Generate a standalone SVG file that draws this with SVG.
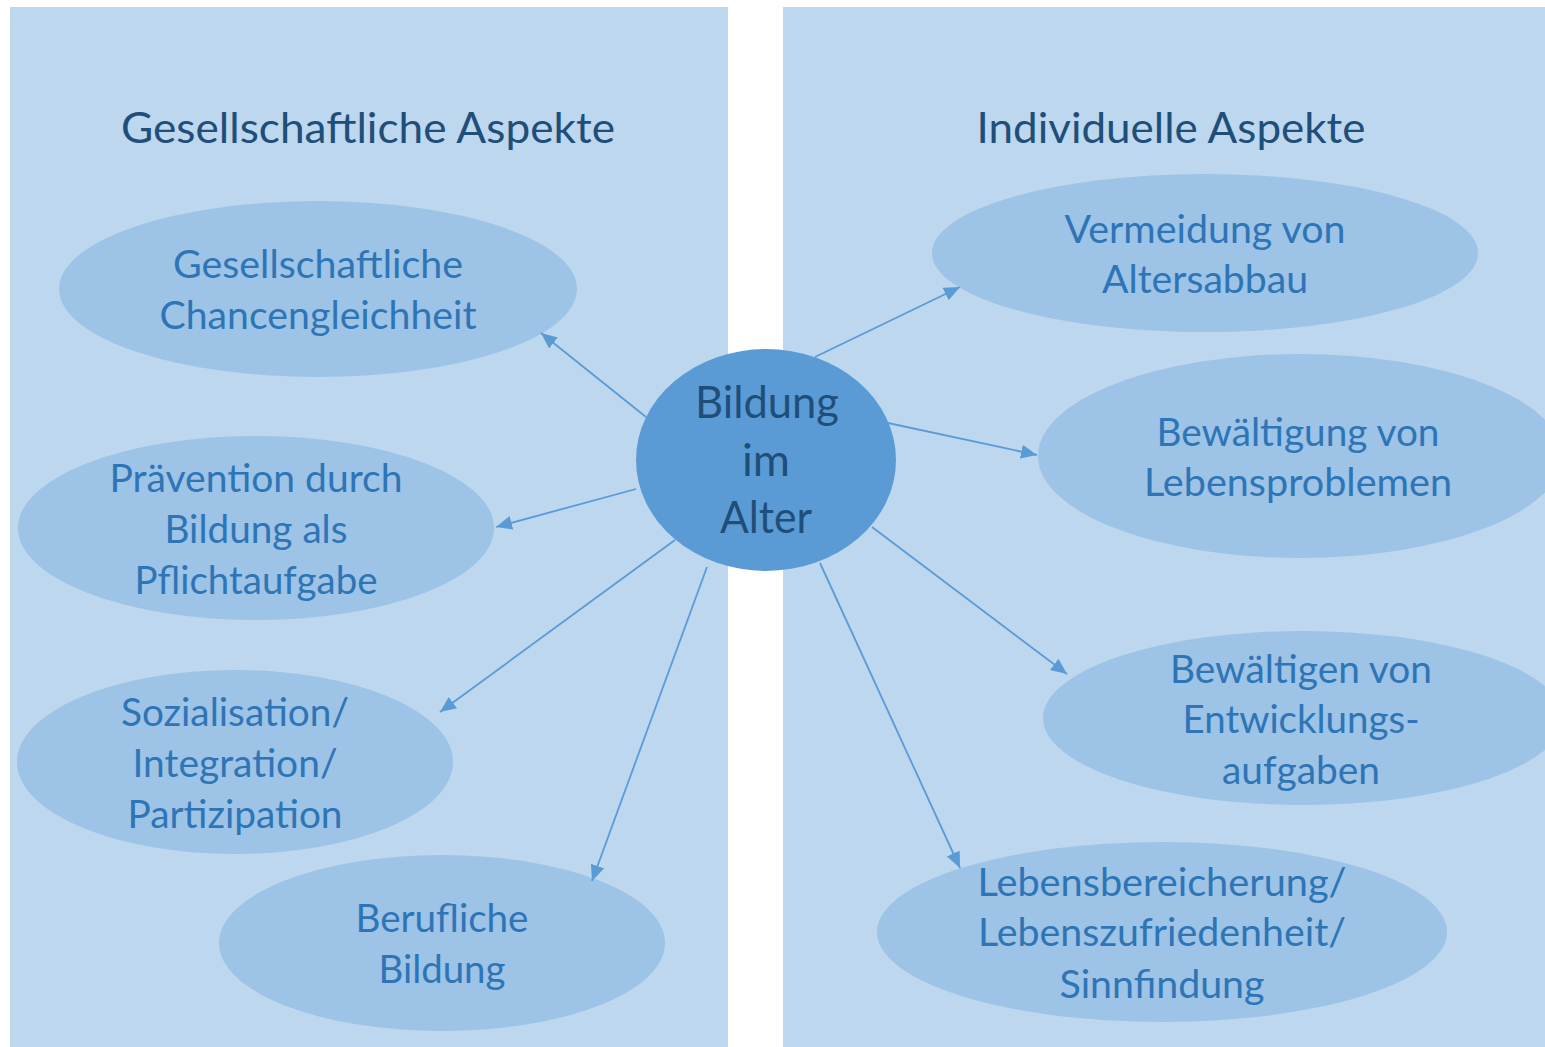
<svg xmlns="http://www.w3.org/2000/svg" width="1545" height="1047" viewBox="0 0 1545 1047">
<style>
.panel{fill:#BDD7EE}
.oval{fill:#9DC3E6}
.hub{fill:#5B9BD5}
text{font-family:Lato,"Open Sans",sans-serif;text-anchor:middle}
.title{font-size:43px;fill:#1F4E79}
.lbl{font-size:39px;fill:#2E75B6}
.hubt{font-size:44px;fill:#1F4E79}
.conn line{stroke:#5B9BD5;stroke-width:1.8;marker-end:url(#ah)}
</style>
<defs>
<marker id="ah" viewBox="0 0 16 14" refX="16" refY="7" markerWidth="16" markerHeight="14" markerUnits="userSpaceOnUse" orient="auto">
<path d="M0,0 L16,7 L0,14 z" fill="#5B9BD5"/>
</marker>
</defs>
<rect width="1545" height="1047" fill="#FFFFFF"/>
<g id="panel-left">
<rect class="panel" x="10" y="7" width="718" height="1040"/>
<text class="title" x="368" y="143" textLength="494" lengthAdjust="spacingAndGlyphs">Gesellschaftliche Aspekte</text>
</g>
<g id="panel-right">
<rect class="panel" x="783" y="7" width="762" height="1040"/>
<text class="title" x="1171" y="143" textLength="389" lengthAdjust="spacingAndGlyphs">Individuelle Aspekte</text>
</g>
<g id="n-chancengleichheit">
<ellipse class="oval" cx="318" cy="289" rx="259" ry="88"/>
<text class="lbl" x="318" y="278" textLength="290" lengthAdjust="spacingAndGlyphs">Gesellschaftliche</text>
<text class="lbl" x="318" y="329" textLength="317" lengthAdjust="spacingAndGlyphs">Chancengleichheit</text>
</g>
<g id="n-praevention">
<ellipse class="oval" cx="256" cy="528" rx="238" ry="92"/>
<text class="lbl" x="256" y="492" textLength="293" lengthAdjust="spacingAndGlyphs">Prävention durch</text>
<text class="lbl" x="256" y="543" textLength="183" lengthAdjust="spacingAndGlyphs">Bildung als</text>
<text class="lbl" x="256" y="594" textLength="243" lengthAdjust="spacingAndGlyphs">Pflichtaufgabe</text>
</g>
<g id="n-sozialisation">
<ellipse class="oval" cx="235" cy="762" rx="218" ry="92"/>
<text class="lbl" x="235" y="726" textLength="228" lengthAdjust="spacingAndGlyphs">Sozialisation/</text>
<text class="lbl" x="235" y="777" textLength="205" lengthAdjust="spacingAndGlyphs">Integration/</text>
<text class="lbl" x="235" y="828" textLength="215" lengthAdjust="spacingAndGlyphs">Partizipation</text>
</g>
<g id="n-beruflich">
<ellipse class="oval" cx="442" cy="943" rx="223" ry="88"/>
<text class="lbl" x="442" y="932" textLength="173" lengthAdjust="spacingAndGlyphs">Berufliche</text>
<text class="lbl" x="442" y="983" textLength="127" lengthAdjust="spacingAndGlyphs">Bildung</text>
</g>
<g id="n-altersabbau">
<ellipse class="oval" cx="1205" cy="253" rx="273" ry="79"/>
<text class="lbl" x="1205" y="243" textLength="281" lengthAdjust="spacingAndGlyphs">Vermeidung von</text>
<text class="lbl" x="1205" y="293" textLength="206" lengthAdjust="spacingAndGlyphs">Altersabbau</text>
</g>
<g id="n-lebensprobleme">
<ellipse class="oval" cx="1300" cy="456" rx="262" ry="102"/>
<text class="lbl" x="1298" y="446" textLength="283" lengthAdjust="spacingAndGlyphs">Bewältigung von</text>
<text class="lbl" x="1298" y="496" textLength="308" lengthAdjust="spacingAndGlyphs">Lebensproblemen</text>
</g>
<g id="n-entwicklung">
<ellipse class="oval" cx="1303" cy="718" rx="260" ry="87"/>
<text class="lbl" x="1301" y="683" textLength="262" lengthAdjust="spacingAndGlyphs">Bewältigen von</text>
<text class="lbl" x="1301" y="733" textLength="237" lengthAdjust="spacingAndGlyphs">Entwicklungs-</text>
<text class="lbl" x="1301" y="784" textLength="158" lengthAdjust="spacingAndGlyphs">aufgaben</text>
</g>
<g id="n-lebensbereicherung">
<ellipse class="oval" cx="1162" cy="932" rx="285" ry="90"/>
<text class="lbl" x="1162" y="896" textLength="369" lengthAdjust="spacingAndGlyphs">Lebensbereicherung/</text>
<text class="lbl" x="1162" y="946" textLength="368" lengthAdjust="spacingAndGlyphs">Lebenszufriedenheit/</text>
<text class="lbl" x="1162" y="998" textLength="205" lengthAdjust="spacingAndGlyphs">Sinnfindung</text>
</g>
<g id="connectors" class="conn">
<line x1="646" y1="417" x2="541" y2="333"/>
<line x1="636" y1="489" x2="496" y2="527"/>
<line x1="675" y1="540" x2="440" y2="712"/>
<line x1="707" y1="567" x2="592" y2="881"/>
<line x1="815" y1="357" x2="960" y2="287"/>
<line x1="888" y1="423" x2="1037" y2="455"/>
<line x1="872" y1="527" x2="1067" y2="674"/>
<line x1="820" y1="563" x2="960" y2="868"/>
</g>
<g id="n-bildung-im-alter">
<ellipse class="hub" cx="766" cy="460" rx="130" ry="111"/>
<text class="hubt" x="767" y="418" textLength="144" lengthAdjust="spacingAndGlyphs">Bildung</text>
<text class="hubt" x="766" y="476" textLength="48" lengthAdjust="spacingAndGlyphs">im</text>
<text class="hubt" x="766" y="533" textLength="92" lengthAdjust="spacingAndGlyphs">Alter</text>
</g>
</svg>
